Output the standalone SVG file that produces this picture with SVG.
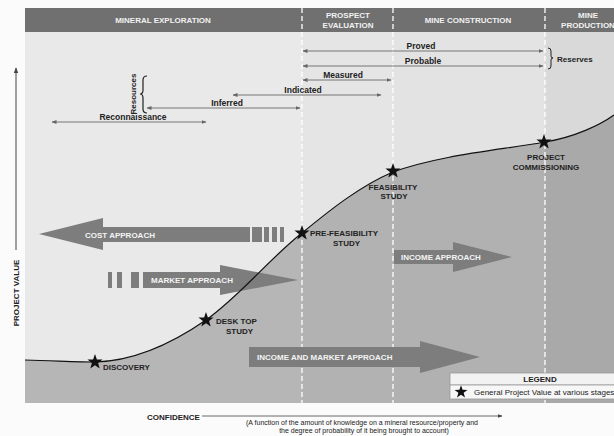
<svg xmlns="http://www.w3.org/2000/svg" width="614" height="436" viewBox="0 0 614 436">
<defs>
<marker id="ah" viewBox="0 0 10 10" refX="9" refY="5" markerWidth="5" markerHeight="5" orient="auto-start-reverse"><path d="M0,1 L10,5 L0,9 z" fill="#666"/></marker>
<marker id="ax" viewBox="0 0 10 10" refX="9" refY="5" markerWidth="6" markerHeight="6" orient="auto-start-reverse"><path d="M0,1 L10,5 L0,9 z" fill="#444"/></marker>
<clipPath id="plot"><rect x="25" y="32" width="589" height="371"/></clipPath>
</defs>
<style>
.hd{font-family:"Liberation Sans",Arial,sans-serif;font-size:8px;font-weight:bold;fill:#f2f2f2;text-anchor:middle}
.lb{font-family:"Liberation Sans",Arial,sans-serif;font-size:8px;font-weight:bold;fill:#222}
.rl{font-family:"Liberation Sans",Arial,sans-serif;font-size:8.5px;font-weight:bold;fill:#222;text-anchor:middle}
.at{font-family:"Liberation Sans",Arial,sans-serif;font-size:8px;font-weight:bold;fill:#f4f4f4}
.sm{font-family:"Liberation Sans",Arial,sans-serif;font-size:7px;fill:#222;text-anchor:middle}
.rng{stroke:#777;stroke-width:1;fill:none;marker-start:url(#ah);marker-end:url(#ah)}
.div{stroke:#fff;stroke-width:1.3;stroke-dasharray:5,3;fill:none}
.ar{fill:#7d7d7d}
.star{fill:#111}
</style>
<rect width="614" height="436" fill="#fbfbfb"/>
<!-- backgrounds -->
<g id="background">
<rect x="25" y="32" width="277" height="371" fill="#e9e9e9"/>
<rect x="302" y="32" width="91" height="371" fill="#e5e5e5"/>
<rect x="393" y="32" width="152" height="371" fill="#e3e3e3"/>
<rect x="545" y="32" width="69" height="371" fill="#d9d9d9"/>
<path clip-path="url(#plot)" d="M25,360 C60,361 80,362 95,362 C140,361 180,338 206,320 C240,296 270,258 302,233 C330,210 360,186 393,172 C440,155 500,150 545,142 C575,137 600,125 614,115 L614,403 L25,403 Z" fill="#000" fill-opacity="0.22"/>
</g>
<!-- header -->
<g id="header">
<rect x="25" y="8" width="589" height="24" fill="#707070"/>
<text class="hd" x="163" y="23">MINERAL EXPLORATION</text>
<text class="hd" x="348" y="18">PROSPECT</text>
<text class="hd" x="348" y="28">EVALUATION</text>
<text class="hd" x="468" y="23">MINE CONSTRUCTION</text>
<text class="hd" x="588" y="18">MINE</text>
<text class="hd" x="588" y="28">PRODUCTION</text>
</g>
<g id="dividers">
<line class="div" x1="302" y1="8" x2="302" y2="403"/>
<line class="div" x1="393" y1="8" x2="393" y2="403"/>
<line class="div" x1="545" y1="8" x2="545" y2="403"/>
</g>
<!-- big arrows -->
<g id="cost-approach">
<path class="ar" d="M39,234 L103,218 L103,227 L250,227 L250,242 L103,242 L103,250 Z"/>
<rect class="ar" x="252" y="227" width="10" height="15"/>
<rect class="ar" x="264" y="227" width="5" height="15"/>
<rect class="ar" x="272" y="227" width="5" height="15"/>
<rect class="ar" x="280" y="227" width="4" height="15"/>
<text class="at" x="85" y="238">COST APPROACH</text>
</g>
<g id="market-approach">
<rect class="ar" x="108" y="272" width="4" height="16"/>
<rect class="ar" x="117" y="272" width="5" height="16"/>
<rect class="ar" x="131" y="272" width="8" height="16"/>
<path class="ar" d="M143,272 L220,272 L220,265 L298,280 L220,295 L220,288 L143,288 Z"/>
<text class="at" x="151" y="283">MARKET APPROACH</text>
</g>
<g id="income-approach">
<path class="ar" d="M394,250 L453,250 L453,242 L512,257 L453,272 L453,264 L394,264 Z"/>
<text class="at" x="401" y="260">INCOME APPROACH</text>
</g>
<g id="income-market-approach">
<path class="ar" d="M249,347 L420,347 L420,341 L480,357 L420,373 L420,367 L249,367 Z"/>
<text class="at" x="257" y="360">INCOME AND MARKET APPROACH</text>
</g>
<!-- curve -->
<g id="curve">
<path d="M25,360 C60,361 80,362 95,362 C140,361 180,338 206,320 C240,296 270,258 302,233 C330,210 360,186 393,172 C440,155 500,150 545,142 C575,137 600,125 614,115" fill="none" stroke="#111" stroke-width="1.2"/>
</g>
<!-- range arrows -->
<g id="ranges">
<line class="rng" x1="303" y1="51" x2="543" y2="51"/>
<text class="rl" x="421" y="49">Proved</text>
<line class="rng" x1="303" y1="66" x2="543" y2="66"/>
<text class="rl" x="423" y="64">Probable</text>
<line class="rng" x1="303" y1="80" x2="391" y2="80"/>
<text class="rl" x="343" y="78">Measured</text>
<line class="rng" x1="233" y1="95" x2="381" y2="95"/>
<text class="rl" x="303" y="93">Indicated</text>
<line class="rng" x1="147" y1="108" x2="300" y2="108"/>
<text class="rl" x="227" y="106">Inferred</text>
<line class="rng" x1="52" y1="122" x2="206" y2="122"/>
<text class="rl" x="133" y="120">Reconnaissance</text>
<text class="lb" text-anchor="middle" transform="translate(136,94) rotate(-90)">Resources</text>
<path d="M147,76 Q143,76 143,80 L143,90 Q143,94 140,94 Q143,94 143,98 L143,109 Q143,113 147,113" fill="none" stroke="#222" stroke-width="1.2"/>
<path d="M548,48 Q551,48 551,51 L551,56 Q551,58 553,58 Q551,58 551,60 L551,66 Q551,69 548,69" fill="none" stroke="#222" stroke-width="1"/>
<text class="lb" x="557" y="62">Reserves</text>
</g>
<!-- stars -->
<g id="discovery">
<path class="star" transform="translate(95,362)" d="M0,-8 L1.9,-2.6 L7.6,-2.5 L3.1,1 L4.7,6.5 L0,3.2 L-4.7,6.5 L-3.1,1 L-7.6,-2.5 L-1.9,-2.6 Z"/>
<text class="lb" x="103" y="370">DISCOVERY</text>
</g>
<g id="desk-top-study">
<path class="star" transform="translate(206,320)" d="M0,-8 L1.9,-2.6 L7.6,-2.5 L3.1,1 L4.7,6.5 L0,3.2 L-4.7,6.5 L-3.1,1 L-7.6,-2.5 L-1.9,-2.6 Z"/>
<text class="lb" x="216" y="324">DESK TOP</text>
<text class="lb" x="226" y="334">STUDY</text>
</g>
<g id="pre-feasibility-study">
<path class="star" transform="translate(302,233)" d="M0,-8 L1.9,-2.6 L7.6,-2.5 L3.1,1 L4.7,6.5 L0,3.2 L-4.7,6.5 L-3.1,1 L-7.6,-2.5 L-1.9,-2.6 Z"/>
<text class="lb" x="310" y="236">PRE-FEASIBILITY</text>
<text class="lb" x="333" y="246">STUDY</text>
</g>
<g id="feasibility-study">
<path class="star" transform="translate(393,171)" d="M0,-8 L1.9,-2.6 L7.6,-2.5 L3.1,1 L4.7,6.5 L0,3.2 L-4.7,6.5 L-3.1,1 L-7.6,-2.5 L-1.9,-2.6 Z"/>
<text class="lb" x="393" y="190" text-anchor="middle">FEASIBILITY</text>
<text class="lb" x="394" y="199" text-anchor="middle">STUDY</text>
</g>
<g id="project-commissioning">
<path class="star" transform="translate(544,142)" d="M0,-8 L1.9,-2.6 L7.6,-2.5 L3.1,1 L4.7,6.5 L0,3.2 L-4.7,6.5 L-3.1,1 L-7.6,-2.5 L-1.9,-2.6 Z"/>
<text class="lb" x="546" y="160" text-anchor="middle">PROJECT</text>
<text class="lb" x="546" y="170" text-anchor="middle">COMMISSIONING</text>
</g>
<!-- legend -->
<g id="legend">
<rect x="450" y="373" width="170" height="12" fill="#f2f2f2" stroke="#999" stroke-width="0.8"/>
<rect x="450" y="385" width="170" height="14" fill="#f7f7f7" stroke="#999" stroke-width="0.8"/>
<text class="lb" x="540" y="382" text-anchor="middle">LEGEND</text>
<path class="star" transform="translate(461,392) scale(0.85)" d="M0,-8 L1.9,-2.6 L7.6,-2.5 L3.1,1 L4.7,6.5 L0,3.2 L-4.7,6.5 L-3.1,1 L-7.6,-2.5 L-1.9,-2.6 Z"/>
<text x="474" y="395" font-family="Liberation Sans, Arial, sans-serif" font-size="8" fill="#222">General Project Value at various stages</text>
</g>
<!-- axes -->
<g id="axes">
<line x1="16" y1="250" x2="16" y2="68" stroke="#444" stroke-width="1" marker-end="url(#ax)"/>
<text class="lb" transform="translate(19,293) rotate(-90)" text-anchor="middle">PROJECT VALUE</text>
<text class="lb" x="147" y="420">CONFIDENCE</text>
<line x1="202" y1="416" x2="502" y2="416" stroke="#444" stroke-width="0.8" marker-end="url(#ax)"/>
<text class="sm" x="362" y="425">(A function of the amount of knowledge on a mineral resource/property and</text>
<text class="sm" x="364" y="433">the degree of probability of it being brought to account)</text>
</g>
</svg>
